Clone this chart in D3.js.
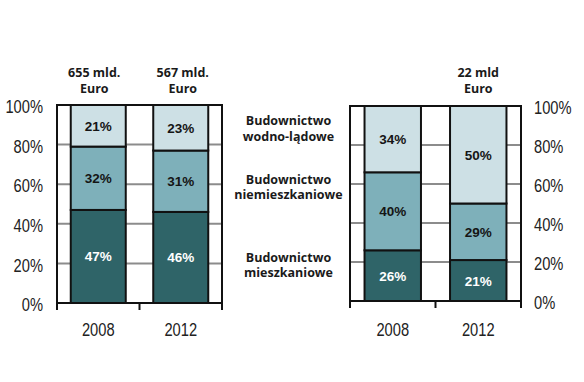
<!DOCTYPE html>
<html><head><meta charset="utf-8">
<script src="https://cdn.jsdelivr.net/npm/d3@7"></script>
<style>
html,body{margin:0;padding:0;background:#fff;}
svg{display:block;}
</style></head>
<body>
<svg id="c" width="584" height="382"></svg>
<script>
// ---- data ----
const years = ["2008", "2012"];
const yTicks = [0, 20, 40, 60, 80, 100];
const seriesNames = ["Budownictwo mieszkaniowe", "Budownictwo niemieszkaniowe", "Budownictwo wodno-lądowe"];
const leftResidential = [47, 46];
const leftNonResidential = [32, 31];
const leftCivil = [21, 23];
const rightResidential = [26, 21];
const rightNonResidential = [40, 29];
const rightCivil = [34, 50];
const leftHeaderLine1 = ["655 mld.", "567 mld."];
const leftHeaderLine2 = ["Euro", "Euro"];
const rightHeaderLine1 = ["", "22 mld"];
const rightHeaderLine2 = ["", "Euro"];

const colors = ["#2f6468", "#7eb0ba", "#cde0e5"];
const labelColors = ["#ffffff", "#151515", "#151515"];
const axisFont = "'Liberation Sans',Arial,sans-serif";
const boldFont = "'Open Sans','Noto Sans',sans-serif";

const svg = d3.select("#c");

function buildRows(a, b, c) {
  return years.map((y, i) => ({year: y, s0: a[i], s1: b[i], s2: c[i]}));
}

function panel(cfg) {
  const rows = buildRows(cfg.a, cfg.b, cfg.c);
  const stack = d3.stack().keys(["s0", "s1", "s2"])(rows);
  const x = d3.scaleBand().domain(years).range([cfg.x0, cfg.x1]).paddingInner(cfg.pad).paddingOuter(cfg.pad / 2);
  const y = d3.scaleLinear().domain([0, 100]).range([cfg.yb, cfg.yt]);
  const g = svg.append("g");

  // gridlines
  g.selectAll("line.grid").data(yTicks.filter(t => t > 0 && t < 100)).join("line")
    .attr("x1", cfg.x0).attr("x2", cfg.x1)
    .attr("y1", d => y(d)).attr("y2", d => y(d))
    .attr("stroke", "#8c8c8c").attr("stroke-width", 2);

  // bars
  stack.forEach((layer, li) => {
    g.selectAll("rect.s" + li).data(layer).join("rect")
      .attr("x", d => x(d.data.year))
      .attr("width", x.bandwidth())
      .attr("y", d => y(d[1]))
      .attr("height", d => y(d[0]) - y(d[1]))
      .attr("fill", colors[li])
      .attr("stroke", "#111").attr("stroke-width", 2);
    g.selectAll("text.s" + li).data(layer).join("text")
      .attr("x", d => x(d.data.year) + x.bandwidth() / 2)
      .attr("y", d => (y(d[0]) + y(d[1])) / 2 + 5)
      .attr("text-anchor", "middle")
      .attr("font-family", "'Liberation Sans',Arial,sans-serif")
      .attr("font-weight", "bold").attr("font-size", 13.5)
      .attr("fill", labelColors[li])
      .text(d => (d[1] - d[0]) + "%");
  });

  // frame
  g.append("rect").attr("x", cfg.x0).attr("y", cfg.yt)
    .attr("width", cfg.x1 - cfg.x0).attr("height", cfg.yb - cfg.yt)
    .attr("fill", "none").attr("stroke", "#111").attr("stroke-width", 2);

  // bottom axis
  const ax = g.append("g").attr("transform", `translate(0,${cfg.yb})`)
    .call(d3.axisBottom(x).tickSize(0).tickPadding(cfg.xpad));
  ax.select(".domain").remove();
  ax.selectAll("text").attr("font-family", axisFont).attr("font-size", 17.5).attr("fill", "#222")
    .attr("transform", "scale(0.84,1)");
  const bnd = [cfg.x0, (x(years[0]) + x.bandwidth() + x(years[1])) / 2, cfg.x1];
  g.selectAll("line.tk").data(bnd).join("line")
    .attr("x1", d => d).attr("x2", d => d)
    .attr("y1", cfg.yb).attr("y2", cfg.yb + 7)
    .attr("stroke", "#111").attr("stroke-width", 2);

  // value axis
  const yAx = g.append("g").attr("transform", `translate(${cfg.side === "left" ? cfg.x0 - 14 : cfg.x1 + 13},2)`)
    .call((cfg.side === "left" ? d3.axisLeft(y) : d3.axisRight(y)).tickValues(yTicks).tickSize(0).tickPadding(0).tickFormat(d => d + "%"));
  yAx.select(".domain").remove();
  yAx.selectAll("text").attr("font-family", axisFont).attr("font-size", 17.5).attr("fill", "#222")
    .attr("transform", "scale(0.84,1)");

  // headers
  years.forEach((yr, i) => {
    const cx = x(yr) + x.bandwidth() / 2 + cfg.hdx[i];
    const t = g.append("text").attr("text-anchor", "middle")
      .attr("font-family", boldFont).attr("font-weight", "bold").attr("font-size", 12.5).attr("fill", "#1a1a1a");
    t.append("tspan").attr("x", cx).attr("y", 77).text(cfg.h1[i]);
    t.append("tspan").attr("x", cx).attr("y", 92.5).text(cfg.h2[i]);
  });
}

panel({x0: 57, x1: 222, yt: 105, yb: 303, pad: 1 / 3, xpad: 21, a: leftResidential, b: leftNonResidential, c: leftCivil,
  side: "left", h1: leftHeaderLine1, h2: leftHeaderLine2, hdx: [-4, 2]});
panel({x0: 350, x1: 521, yt: 106, yb: 301, pad: 0.34, xpad: 23, a: rightResidential, b: rightNonResidential, c: rightCivil,
  side: "right", h1: rightHeaderLine1, h2: rightHeaderLine2, hdx: [0, 0]});

// middle legend labels
const legendY = [261.5, 183.5, 125];
seriesNames.forEach((name, i) => {
  const parts = name.split(" ");
  const t = svg.append("text").attr("text-anchor", "middle")
    .attr("font-family", boldFont).attr("font-weight", "bold").attr("font-size", 12.5).attr("fill", "#1a1a1a");
  t.append("tspan").attr("x", 288.5).attr("y", legendY[i]).text(parts[0]);
  t.append("tspan").attr("x", 288.5).attr("y", legendY[i] + 15.5).text(parts[1]);
});
</script>
</body></html>
